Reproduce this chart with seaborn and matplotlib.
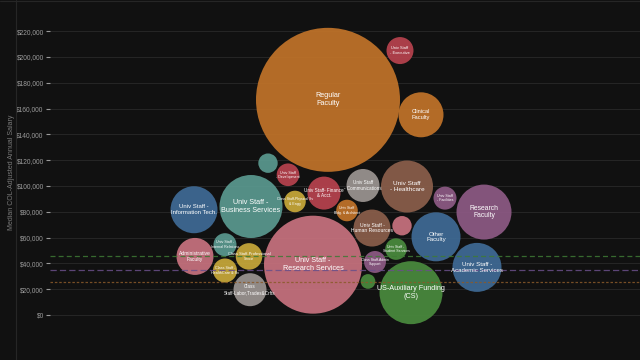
# Packed bubble chart of median COL-adjusted salary by job group
import numpy as np
import pandas as pd
import seaborn as sns
import matplotlib.pyplot as plt
from matplotlib.lines import Line2D

groups = [
    "Regular\nFaculty", "Univ Staff\n- Executive", "Clinical\nFaculty", "teal_small",
    "Univ Staff\n- Development", "Univ Staff -\nBusiness Services", "Univ Staff -\nInformation Tech.",
    "Class Staff-Physical Sv\n& Engg", "Univ Staff- Finance\n& Acct.", "Univ Staff\n- Communications",
    "Univ Staff\n- Healthcare", "Univ Staff\n- Facilities", "Research\nFaculty",
    "Univ Staff\nBldg. & Architect", "Univ Staff -\nHuman Resources", "pink_small",
    "Other\nFaculty", "Univ Staff -\nStudent Services", "Class Staff-Admin\nSupport",
    "Univ Staff -\nResearch Services", "US-Auxiliary Funding\n(CS)", "green_small",
    "Univ Staff -\nAcademic Services", "Administrative\nFaculty", "Univ Staff -\nInternal Relations",
    "Class Staff-Professional\nSrvce", "Class Staff -\nHealthCare & Sv", "Class\nStaff-Labor,Trades&Crfts",
]
salary = [166800, 205000, 155200, 117700, 108700, 84100, 81600, 88000, 94500, 100400,
          99600, 90600, 79800, 81000, 67400, 69200, 60600, 51100, 41100, 39000,
          17300, 26000, 36900, 45400, 54500, 45400, 34500, 19600]
headcount = [2592, 91, 253, 47, 64, 496, 276, 58, 136, 136,
             338, 66, 378, 58, 171, 47, 300, 58, 60, 1200,
             496, 27, 300, 171, 66, 88, 72, 136]
# horizontal position from the packing layout
pack_x = [278, 350, 371, 218, 238, 201, 144, 245, 274, 313,
          357, 395, 434, 297, 322, 352, 386, 346, 325, 263,
          361, 318, 427, 145, 175, 199, 175, 200]
family = ["orange", "red", "orange", "teal", "red", "teal", "blue", "gold", "red", "gray",
          "brown", "purple", "purple", "orange", "brown", "pink", "blue", "green", "purple", "pink",
          "green", "green", "blue", "pink", "teal", "gold", "gold", "gray"]

ref_lines = [45400, 34500, 25800]

colors = {"orange": "#c27429", "red": "#b8434e", "teal": "#5b9a90", "blue": "#3f6b96",
          "gold": "#c8a93a", "gray": "#9c9592", "brown": "#8b5f4b", "purple": "#8e5a85",
          "pink": "#c9737f", "green": "#4a8b3e"}
ref_colors = ["#3e7a35", "#6a4f8a", "#8a5a2a"]
ref_dash = [(4, 2.5), (5, 2.5), (2, 1.5)]

df = pd.DataFrame({"group": groups, "salary": salary, "count": headcount,
                   "x": pack_x, "family": family})

sns.set_style("dark")
plt.rcParams["font.family"] = ["Liberation Sans", "DejaVu Sans"]

fig = plt.figure(figsize=(6.4, 3.6), dpi=100, facecolor="#111111")
ax = fig.add_axes([50 / 640, 0, 590 / 640, 1])
ax.set_facecolor("#111111")

# radius in px ~ sqrt(2*count); scatter area in pt^2
cmax = max(headcount)
smax = (1.44 ** 2) * 2 * cmax
sns.scatterplot(data=df, x="x", y="salary", hue="family", palette=colors,
                size="count", sizes=(0, smax), size_norm=(0, cmax),
                alpha=0.92, linewidth=0, legend=False, zorder=3, ax=ax)

for y, c, d in zip(ref_lines, ref_colors, ref_dash):
    ax.axhline(y, color=c, lw=0.9, dashes=d, zorder=4, alpha=0.85)

for _, row in df.iterrows():
    if row["group"].endswith("_small"):
        continue
    r = np.sqrt(2 * row["count"])
    fs = min(5.2, 1.0 + 0.14 * r)
    ax.text(row["x"], row["salary"], row["group"], ha="center", va="center",
            color="white", fontsize=fs, zorder=5, linespacing=1.15)

ax.set_xlim(0, 590)
ax.set_ylim(-34900, 244200)
ax.set_yticks(range(0, 220001, 20000))
ax.set_yticklabels([f"${v:,.0f}" for v in range(0, 220001, 20000)])
ax.set_xticks([])
ax.set_xlabel("")
ax.set_ylabel("Median COL-Adjusted Annual Salary", color="#7a7a7a", fontsize=5, labelpad=2)
ax.yaxis.set_label_coords(-0.06, 0.52)
ax.tick_params(axis="y", colors="#9a9a9a", labelsize=4.8, length=3, width=0.8, pad=1.5, left=True)
ax.grid(axis="y", color="#262626", lw=0.7, zorder=0)
for s in ax.spines.values():
    s.set_visible(False)

fig.add_artist(Line2D([16 / 640, 16 / 640], [0, 1], color="#262626", lw=0.8))
fig.add_artist(Line2D([0, 1], [359 / 360, 359 / 360], color="#262626", lw=0.8))

fig.savefig("out.png", dpi=100, facecolor="#111111")
